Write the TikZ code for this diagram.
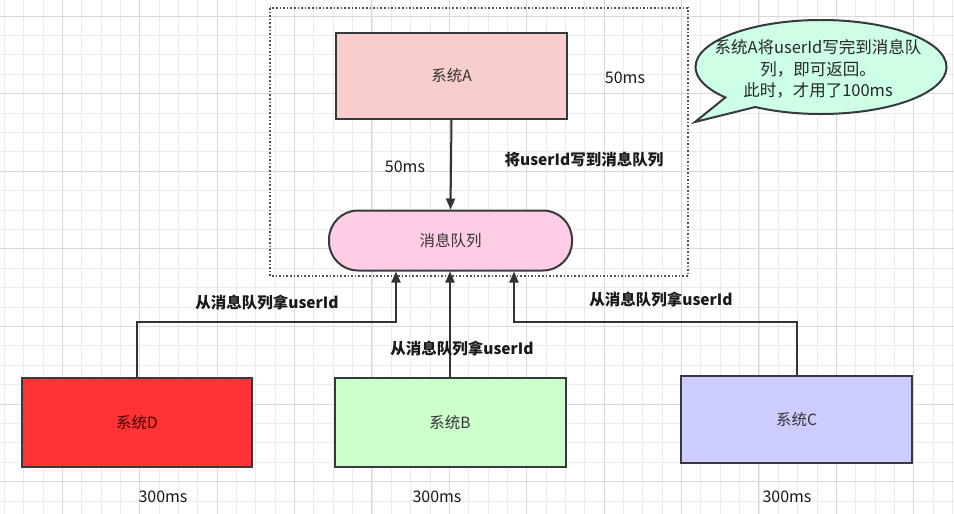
\documentclass[tikz,border=0pt]{standalone}
\usepackage{fontspec}
\newfontfamily\cjk{Noto Sans CJK SC}
\usetikzlibrary{arrows.meta,shapes.callouts,shapes.geometric}
\definecolor{edge}{HTML}{333333}
\definecolor{boxline}{HTML}{36393D}
\definecolor{fillA}{HTML}{F8CECC}
\definecolor{fillQ}{HTML}{FFCCE6}
\definecolor{fillD}{HTML}{FF3333}
\definecolor{fillB}{HTML}{CCFFCC}
\definecolor{fillC}{HTML}{CCCCFF}
\definecolor{fillBub}{HTML}{CCFFE6}
\definecolor{gridminor}{HTML}{EBEBEB}
\definecolor{gridmajor}{HTML}{DADADA}
\tikzset{
  sysbox/.style={draw=boxline, line width=2pt, minimum width=231pt, minimum height=88pt, inner sep=0pt, font=\cjk\fontsize{15.5}{18}\selectfont, text=black!80},
  lbl/.style={font=\cjk\bfseries\fontsize{15.5}{18}\selectfont, text=black!90, inner sep=0pt},
  mslbl/.style={font=\cjk\fontsize{16}{18}\selectfont, text=black!90, inner sep=0pt},
  arr/.style={draw=edge, line width=2pt, -{Triangle[length=11pt,width=9pt]}},
}
\begin{document}
\begin{tikzpicture}[x=1pt,y=-1pt]
\useasboundingbox (0,0) rectangle (954,514);
\fill[white] (0,0) rectangle (954,514);
% grid
\foreach \i in {-3,...,49} {
  \draw[gridminor, line width=0.8pt] ({62.3+19.35*\i},0) -- ({62.3+19.35*\i},514);
}
\foreach \i in {-1,...,27} {
  \draw[gridminor, line width=0.8pt] (0,{16+19.4*\i}) -- (954,{16+19.4*\i});
}
\foreach \i in {-1,...,12} {
  \draw[gridmajor, line width=1pt] ({62.3+77.4*\i},0) -- ({62.3+77.4*\i},514);
}
\foreach \i in {-1,...,6} {
  \draw[gridmajor, line width=1pt] (0,{16+77.6*\i}) -- (954,{16+77.6*\i});
}
% dotted frame
\draw[edge!85, line width=1.6pt, dash pattern=on 1.6pt off 2pt] (270,8) rectangle (688,276);
% nodes
\node[sysbox, fill=fillA, minimum width=231pt, minimum height=86pt] (A) at (451.5,76) {系统A};
\node[sysbox, fill=fillQ, minimum width=243pt, minimum height=60pt, rounded corners=29pt] (Q) at (450.5,240.5) {消息队列};
\node[sysbox, fill=fillD, minimum width=230pt, minimum height=89pt, text=black!75!red] (D) at (137,422.5) {系统D};
\node[sysbox, fill=fillB, minimum width=231pt, minimum height=89pt] (B) at (450,422.5) {系统B};
\node[sysbox, fill=fillC, minimum width=231pt, minimum height=87pt] (C) at (796.5,419.5) {系统C};
% bubble
\node[ellipse callout, draw=boxline, line width=2pt, fill=fillBub, minimum width=251pt, minimum height=94pt, inner sep=0pt, callout absolute pointer={(695,122)}, callout pointer arc=18] (bub) at (821,67) {};
\node[align=center, inner sep=0pt, font=\cjk\fontsize{16.5}{21.5}\selectfont, text=black!85] (bubtxt) at (818,69) {系统A将userId写完到消息队\\列，即可返回。\\此时，才用了100ms};
% connectors
\draw[arr] (A.south) -- (Q.north);
\draw[arr] (D.north) -- ++(0,-55) -| ([xshift=-54.5pt]Q.south);
\draw[arr] (B.north) -- (B.north |- Q.south);
\draw[arr] (C.north) -- ++(0,-53) -| ([xshift=63.5pt]Q.south);
% labels
\node[mslbl] (l50a) at (625,78) {50ms};
\node[mslbl] (l50b) at (405,167) {50ms};
\node[lbl] (lw) at (584,160) {将userId写到消息队列};
\node[lbl] (lD) at (267,303) {从消息队列拿userId};
\node[lbl] (lB) at (462,349) {从消息队列拿userId};
\node[lbl] (lC) at (661,300) {从消息队列拿userId};
\node[mslbl] (tD) at (163,497) {300ms};
\node[mslbl] (tB) at (437,497) {300ms};
\node[mslbl] (tC) at (787,497) {300ms};
\end{tikzpicture}
\end{document}
